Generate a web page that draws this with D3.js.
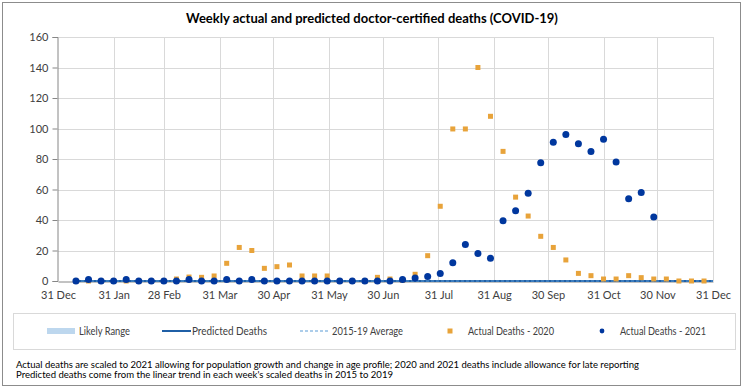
<!DOCTYPE html>
<html>
<head>
<meta charset="utf-8">
<script src="https://cdn.jsdelivr.net/npm/d3@7"></script>
<style>
  body { margin: 0; background: #fff; }
  svg { font-family: Lato, "Open Sans", sans-serif; }
</style>
</head>
<body>
<svg id="chart" width="744" height="390"></svg>
<script>
// week numbers, week 1 ends Sunday 10 Jan
const weeks = [1, 2, 3, 4, 5, 6, 7, 8, 9, 10, 11, 12, 13, 14, 15, 16, 17, 18, 19, 20, 21, 22, 23, 24, 25, 26,
  27, 28, 29, 30, 31, 32, 33, 34, 35, 36, 37, 38, 39, 40, 41, 42, 43, 44, 45, 46, 47, 48, 49, 50, 51, 52];

const deaths2021 = [0, 1, 0, 0, 1, 0, 0, 0, 0, 1, 0, 0, 1, 0, 1, 0, 0, 0, 0, 0, 0, 0, 0, 0, 0, 0,
  1, 2, 3, 5, 12, 24, 18, 15, 39.5, 46, 57.5, 77.5, 91, 96, 90, 85, 93, 78, 54, 58, 42];

const deaths2020 = [0, 0, 0, 0, 0, 0, 0, 0, 1.3, 2.6, 2.4, 3.3, 11.6, 22, 20, 8.3, 9.4, 10.5, 3.3, 3.3, 3.3, 0, 0, 0, 2.4, 1.3,
  0.5, 4.4, 16.6, 49, 99.7, 99.7, 140, 108, 85, 55, 42.6, 29.3, 22, 13.8, 5, 3.5, 1.3, 1.3, 3.5, 2.2, 1.3, 1.3, 0, 0, 0];

const predicted = [0, 0, 0, 0, 0, 0, 0, 0, 0, 0, 0, 0, 0, 0, 0, 0, 0, 0, 0, 0, 0, 0, 0, 0, 0, 0,
  0, 0, 0, 0, 0, 0, 0, 0, 0, 0, 0, 0, 0, 0, 0, 0, 0, 0, 0, 0, 0, 0, 0, 0, 0, 0];
const average1519 = [0, 0, 0, 0, 0, 0, 0, 0, 0, 0, 0, 0, 0, 0, 0, 0, 0, 0, 0, 0, 0, 0, 0, 0, 0, 0,
  0, 0, 0, 0, 0, 0, 0, 0, 0, 0, 0, 0, 0, 0, 0, 0, 0, 0, 0, 0, 0, 0, 0, 0, 0, 0];
const rangeLow = predicted;
const rangeHigh = [0, 0, 0, 0, 0, 0, 0, 0, 0, 0, 0, 0, 0, 0, 0, 0, 0, 0, 0, 0, 0, 0, 0, 0, 0, 0,
  0, 0, 0, 0, 0, 0, 0, 0, 0, 0, 0, 0, 0, 0, 0, 0, 0, 0, 0, 0, 0, 0, 0, 0, 0, 0];

const monthTicks = ['2020-12-31', '2021-01-31', '2021-02-28', '2021-03-31', '2021-04-30', '2021-05-31', '2021-06-30',
  '2021-07-31', '2021-08-31', '2021-09-30', '2021-10-31', '2021-11-30', '2021-12-31'];
const monthLabels = ['31 Dec', '31 Jan', '28 Feb', '31 Mar', '30 Apr', '31 May', '30 Jun',
  '31 Jul', '31 Aug', '30 Sep', '31 Oct', '30 Nov', '31 Dec'];
const yTicks = [0, 20, 40, 60, 80, 100, 120, 140, 160];

const title = 'Weekly actual and predicted doctor-certified deaths (COVID-19)';
const notes = [
  'Actual deaths are scaled to 2021 allowing for population growth and change in age profile; 2020 and 2021 deaths include allowance for late reporting',
  "Predicted deaths come from the linear trend in each week's scaled deaths in 2015 to 2019"
];

const orange = '#E8A33A',
  navy = '#00379E',
  lineBlue = '#1F5FA6',
  dashBlue = '#5B9BD5',
  bandBlue = '#BDD7EE',
  grid = '#D9D9D9',
  textCol = '#404040';

const svg = d3.select('#chart');
const parse = d3.timeParse('%Y-%m-%d');
const firstWeekEnd = parse('2021-01-10');
const weekDate = w => d3.timeDay.offset(firstWeekEnd, 7 * (w - 1));

const plotL = 58, plotR = 713, plotT = 37, plotB = 281;
const x = d3.scaleTime().domain([parse('2020-12-31'), parse('2021-12-31')]).range([plotL, plotR]);
const y = d3.scaleLinear().domain([0, 160]).range([plotB, plotT]);

// outer frame
svg.append('rect').attr('x', 2.5).attr('y', 2.5).attr('width', 738).attr('height', 383)
  .attr('fill', '#fff').attr('stroke', '#8C8C8C');

// title
svg.append('text').attr('x', 372).attr('y', 23).attr('text-anchor', 'middle')
  .attr('font-size', 13).attr('font-weight', 'bold').attr('fill', '#000').text(title);

// gridlines
svg.append('g').selectAll('line').data(yTicks.slice(1)).join('line')
  .attr('x1', plotL).attr('x2', plotR).attr('y1', d => Math.round(y(d)) + 0.5).attr('y2', d => Math.round(y(d)) + 0.5)
  .attr('stroke', grid);
svg.append('g').selectAll('line').data(monthTicks.slice(1)).join('line')
  .attr('x1', d => Math.round(x(parse(d))) + 0.5).attr('x2', d => Math.round(x(parse(d))) + 0.5)
  .attr('y1', plotT).attr('y2', plotB)
  .attr('stroke', grid);

// axes
const yAxis = svg.append('g').attr('transform', `translate(${plotL - 0.5},0)`)
  .call(d3.axisLeft(y).tickValues(yTicks).tickSize(5).tickPadding(4));
const xAxis = svg.append('g').attr('transform', `translate(0,${Math.round(plotB) + 0.5})`)
  .call(d3.axisBottom(x).tickValues(monthTicks.map(parse)).tickSize(0).tickPadding(10)
    .tickFormat((d, i) => monthLabels[i]));
[yAxis, xAxis].forEach(g => {
  g.selectAll('path, line').attr('stroke', '#868686');
  g.selectAll('text').attr('fill', textCol).attr('font-size', 11).attr('font-family', 'Lato, sans-serif');
});

// series
const plot = svg.append('g');
svg.append('clipPath').attr('id', 'clip').append('rect')
  .attr('x', plotL).attr('y', plotT - 5).attr('width', plotR - plotL).attr('height', plotB - plotT + 10);

plot.append('path').datum(weeks).attr('clip-path', 'url(#clip)')
  .attr('d', d3.area().x(w => x(weekDate(w))).y0((w, i) => y(rangeLow[i])).y1((w, i) => y(rangeHigh[i])))
  .attr('fill', bandBlue);

plot.append('path').datum(weeks).attr('clip-path', 'url(#clip)')
  .attr('d', d3.line().x(w => x(weekDate(w))).y((w, i) => y(predicted[i])))
  .attr('fill', 'none').attr('stroke', lineBlue).attr('stroke-width', 2);

plot.append('path').datum(weeks).attr('clip-path', 'url(#clip)')
  .attr('d', d3.line().x(w => x(weekDate(w))).y((w, i) => y(average1519[i])))
  .attr('fill', 'none').attr('stroke', dashBlue).attr('stroke-width', 1.2).attr('stroke-dasharray', '3,2');

const sq = 5;
plot.append('g').selectAll('rect').data(deaths2020).join('rect')
  .attr('x', (d, i) => x(weekDate(weeks[i])) - sq / 2)
  .attr('y', d => y(d) - sq / 2)
  .attr('width', sq).attr('height', sq).attr('fill', orange);

plot.append('g').selectAll('circle').data(deaths2021).join('circle')
  .attr('cx', (d, i) => x(weekDate(weeks[i])))
  .attr('cy', d => y(d))
  .attr('r', 3.5).attr('fill', navy);

// legend
const lg = svg.append('g');
lg.append('rect').attr('x', 13.5).attr('y', 313.5).attr('width', 722).attr('height', 36)
  .attr('fill', 'none').attr('stroke', grid);
const ly = 331;
lg.append('rect').attr('x', 47).attr('y', ly - 3).attr('width', 28).attr('height', 6).attr('fill', bandBlue);
lg.append('line').attr('x1', 162).attr('x2', 191).attr('y1', ly).attr('y2', ly).attr('stroke', lineBlue).attr('stroke-width', 2);
lg.append('line').attr('x1', 300).attr('x2', 329).attr('y1', ly).attr('y2', ly).attr('stroke', dashBlue)
  .attr('stroke-width', 1.2).attr('stroke-dasharray', '3,2');
lg.append('rect').attr('x', 450 - 2.5).attr('y', ly - 2.5).attr('width', 5).attr('height', 5).attr('fill', orange);
lg.append('circle').attr('cx', 602).attr('cy', ly).attr('r', 2.4).attr('fill', navy);
const legendItems = [
  { label: 'Likely Range', x: 79, w: 51 },
  { label: 'Predicted Deaths', x: 192, w: 75 },
  { label: '2015-19 Average', x: 332, w: 71 },
  { label: 'Actual Deaths - 2020', x: 468, w: 86 },
  { label: 'Actual Deaths - 2021', x: 620, w: 86 }
];
lg.selectAll('text').data(legendItems).join('text')
  .attr('x', d => d.x).attr('y', ly).attr('dy', '0.35em')
  .attr('font-size', 10.5).attr('fill', textCol)
  .attr('textLength', d => d.w).attr('lengthAdjust', 'spacingAndGlyphs')
  .text(d => d.label);

// footnotes
svg.append('g').selectAll('text').data(notes).join('text')
  .attr('x', 16).attr('y', (d, i) => 367.5 + i * 10.5)
  .attr('font-size', 10).attr('fill', '#000')
  .attr('textLength', (d, i) => [623, 377][i]).attr('lengthAdjust', 'spacingAndGlyphs')
  .text(d => d);
</script>
</body>
</html>
